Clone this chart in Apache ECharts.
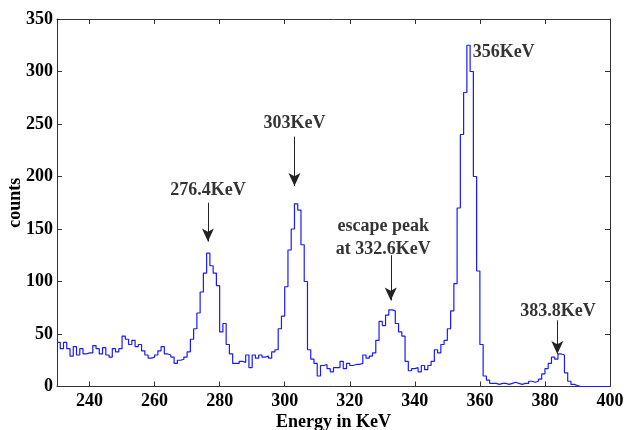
<!DOCTYPE html>
<html><head><meta charset="utf-8">
<script src="https://cdn.jsdelivr.net/npm/echarts@6/dist/echarts.min.js"></script>
<style>html,body{margin:0;padding:0;background:#fff}#c{width:625px;height:430px}</style>
</head><body><div id="c"></div>
<script>
const binStart = 230;
const binWidth = 1;
const counts = [
  42,36,42,36,29,38,30,36,31,32,
  32,39,36,31,37,30,28,36,33,36,
  48,45,40,44,38,40,34,30,27,28,
  30,34,38,31,30,28,22,25,26,28,
  33,45,55,70,90,108,127,115,108,96,
  52,60,40,31,22,22,24,23,30,18,
  30,27,30,28,29,27,33,35,55,67,
  95,130,150,174,168,135,100,35,26,22,
  10,20,21,17,14,18,18,24,17,22,
  20,21,21,22,30,27,29,32,44,62,
  58,68,73,72,60,52,48,24,15,17,
  18,14,20,16,20,24,35,32,40,44,
  55,72,98,170,240,280,325,300,200,110,
  40,10,6,3,3,2,3,3,2,3,
  4,3,2,3,3,5,4,5,7,12,
  17,22,28,26,31,30,13,5,2,1,
  0,0,0,0,0,0,0,0,0,0
];
const xTicks = [240,260,280,300,320,340,360,380,400];
const yTicks = [0,50,100,150,200,250,300,350];
// annotations: [label x, label y, text]
const labels = [
  [276.4, 187, '276.4KeV'],
  [303, 251, '303KeV'],
  [330.3, 142, 'escape peak\nat 332.6KeV'],
  [367.3, 318, '356KeV'],
  [384, 72, '383.8KeV']
];
// arrows: [x, yFrom, yTo]
const arrows = [
  [276.4, 175, 138],
  [303, 238, 191],
  [332.6, 125, 82],
  [383.8, 63, 31]
];

const data = counts.map((v, i) => [binStart + i * binWidth, v]);
data.push([binStart + counts.length * binWidth, 0]);

const font = '"Liberation Serif", "Times New Roman", serif';
const axCol = '#333';
const chart = echarts.init(document.getElementById('c'), null, {renderer: 'canvas'});
const baseX = {
  type: 'value', min: 230, max: 400,
  axisLine: {show: true, onZero: false, lineStyle: {color: axCol, width: 1}},
  axisTick: {show: true, inside: true, length: 5, customValues: xTicks, lineStyle: {color: axCol}},
  splitLine: {show: false}
};
const baseY = {
  type: 'value', min: 0, max: 350, interval: 50,
  axisLine: {show: true, onZero: false, lineStyle: {color: axCol, width: 1}},
  axisTick: {show: true, inside: true, length: 5, lineStyle: {color: axCol}},
  splitLine: {show: false}
};
chart.setOption({
  animation: false,
  backgroundColor: '#fff',
  grid: {left: 57, right: 15, top: 19, bottom: 43.5, containLabel: false, outerBoundsMode: 'none'},
  xAxis: [
    Object.assign({}, baseX, {
      position: 'bottom',
      name: 'Energy in KeV', nameLocation: 'middle', nameGap: 27, nameMoveOverlap: false,
      nameTextStyle: {fontFamily: font, fontWeight: 'bold', fontSize: 18, color: '#000'},
      axisLabel: {show: true, customValues: xTicks, margin: 6, fontFamily: font, fontWeight: 'bold', fontSize: 18, color: '#000'}
    }),
    Object.assign({}, baseX, {position: 'top', axisLabel: {show: false}})
  ],
  yAxis: [
    Object.assign({}, baseY, {
      position: 'left',
      name: 'counts', nameLocation: 'middle', nameGap: 33, nameRotate: 90, nameMoveOverlap: false,
      nameTextStyle: {fontFamily: font, fontWeight: 'bold', fontSize: 18, color: '#000'},
      axisLabel: {show: true, margin: 4, fontFamily: font, fontWeight: 'bold', fontSize: 18, color: '#000'}
    }),
    Object.assign({}, baseY, {position: 'right', axisLabel: {show: false}})
  ],
  series: [
    {
      type: 'line', step: 'end', data: data, symbol: 'none',
      lineStyle: {color: '#1a1aff', width: 1.2},
      markLine: {
        silent: true, symbol: ['none', 'arrow'], symbolSize: [9, 13],
        lineStyle: {color: '#222', width: 1, type: 'solid'},
        label: {show: false},
        data: arrows.map(a => [{coord: [a[0], a[1]]}, {coord: [a[0], a[2]]}])
      }
    },
    {
      type: 'scatter', symbolSize: 0, silent: true,
      data: labels.map(l => ({value: [l[0], l[1]], name: l[2]})),
      label: {
        show: true, position: 'inside', formatter: p => p.name,
        fontFamily: font, fontWeight: 'bold', fontSize: 18, color: '#000', lineHeight: 23, align: 'center'
      }
    }
  ]
});
</script></body></html>
